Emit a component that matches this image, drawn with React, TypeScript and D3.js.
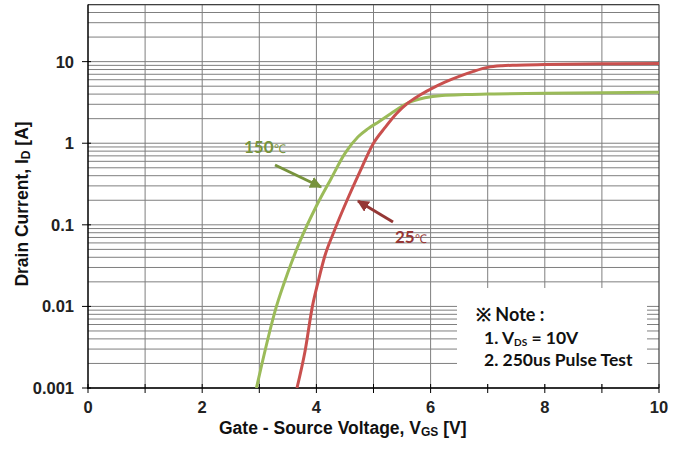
import React from "react";
import * as d3 from "d3";

// ---- data ----
const vgs25 = [3.66, 3.8, 3.93, 4.03, 4.15, 4.3, 4.55, 4.75, 5.0, 5.2, 5.4, 5.6, 5.8, 6.0, 6.25, 6.5, 6.75, 7.0, 7.25, 7.5, 8.0, 9.0, 10.0];
const id25 = [0.001, 0.0028, 0.01, 0.02, 0.042, 0.08, 0.21, 0.43, 1.0, 1.55, 2.3, 3.1, 3.85, 4.6, 5.6, 6.6, 7.6, 8.5, 8.9, 9.05, 9.2, 9.4, 9.5];
const vgs150 = [2.95, 3.3, 3.5, 3.7, 4.0, 4.25, 4.5, 4.73, 4.9, 5.1, 5.3, 5.6, 5.9, 6.2, 6.6, 7.0, 8.0, 9.0, 10.0];
const id150 = [0.001, 0.01, 0.026, 0.06, 0.17, 0.36, 0.75, 1.2, 1.5, 1.85, 2.3, 3.1, 3.6, 3.85, 3.95, 4.0, 4.1, 4.15, 4.2];

const xTicks = [0, 2, 4, 6, 8, 10];
const xMinorTicks = [1, 3, 5, 7, 9];
const yTicks = [0.001, 0.01, 0.1, 1, 10];
const yTickLabels = ["0.001", "0.01", "0.1", "1", "10"];

const RED = "#C9504E";
const GREEN = "#9BBB59";
const RED_DARK = "#953735";
const GREEN_DARK = "#77933C";

export default function App() {
  const W = 683, H = 459;
  const L = 88, R = 659, T = 4.6, B = 388;
  const x = d3.scaleLinear().domain([0, 10]).range([L, R]);
  const y = d3.scaleLog().domain([0.001, 50]).range([B, T]);

  const hLines: number[] = [];
  for (let d = -3; d <= 1; d++) {
    for (let m = 1; m <= 9; m++) {
      const v = m * Math.pow(10, d);
      if (v <= 50.0001) hLines.push(v);
    }
  }
  const vLines = d3.range(1, 10);

  const line = d3
    .line<[number, number]>()
    .x((d) => x(d[0]))
    .y((d) => y(d[1]))
    .curve(d3.curveMonotoneX);

  const red = line(vgs25.map((v, i) => [v, id25[i]] as [number, number]))!;
  const green = line(vgs150.map((v, i) => [v, id150[i]] as [number, number]))!;

  const axisFont = "'Liberation Sans', Arial, sans-serif";
  const noteFont = "Lato, 'Open Sans', sans-serif";

  return (
    <svg width={W} height={H} style={{ position: "absolute", left: 0, top: 0, background: "#fff" }}>
      <defs>
        <clipPath id="plot">
          <rect x={L} y={T} width={R - L} height={B - T} />
        </clipPath>
        <marker id="arrG" viewBox="0 0 10 10" refX="9" refY="5" markerWidth="4" markerHeight="4" orient="auto">
          <path d="M0,0 L10,5 L0,10 z" fill={GREEN_DARK} />
        </marker>
        <marker id="arrR" viewBox="0 0 10 10" refX="9" refY="5" markerWidth="4" markerHeight="4" orient="auto">
          <path d="M0,0 L10,5 L0,10 z" fill={RED_DARK} />
        </marker>
      </defs>
      <rect x={0} y={0} width={W} height={H} fill="#fff" />
      {/* grid */}
      {hLines.map((v, i) => (
        <line key={"h" + i} x1={L} x2={R} y1={y(v)} y2={y(v)} stroke="#7f7f7f" strokeWidth={1} />
      ))}
      {vLines.map((v) => (
        <line key={"v" + v} x1={x(v)} x2={x(v)} y1={T} y2={B} stroke="#7f7f7f" strokeWidth={1} />
      ))}
      {/* note box background */}
      <rect x={457} y={288} width={190} height={96} fill="#fff" />
      {/* plot border */}
      <line x1={L} x2={R} y1={T} y2={T} stroke="#404040" strokeWidth={1.2} />
      <line x1={R} x2={R} y1={T} y2={B} stroke="#404040" strokeWidth={1.2} />
      <line x1={L} x2={L} y1={T} y2={B + 1} stroke="#000" strokeWidth={1.5} />
      <line x1={L - 1} x2={R} y1={B} y2={B} stroke="#000" strokeWidth={1.5} />
      {/* ticks */}
      {[...xTicks, ...xMinorTicks].map((v) => (
        <line key={"xt" + v} x1={x(v)} x2={x(v)} y1={B - 4} y2={B + 5} stroke="#000" strokeWidth={1} />
      ))}
      {yTicks.map((v) => (
        <line key={"yt" + v} x1={L - 6} x2={L + 3} y1={y(v)} y2={y(v)} stroke="#000" strokeWidth={1} />
      ))}
      {/* tick labels */}
      {xTicks.map((v) => (
        <text key={"xl" + v} x={x(v)} y={413} textAnchor="middle" fontFamily={axisFont} fontWeight="bold" fontSize={16.5} fill="#222">
          {v}
        </text>
      ))}
      {yTicks.map((v, i) => (
        <text key={"yl" + v} x={74} y={y(v)} dy="0.36em" textAnchor="end" fontFamily={axisFont} fontWeight="bold" fontSize={16.5} fill="#222">
          {yTickLabels[i]}
        </text>
      ))}
      {/* axis titles */}
      <text x={219} y={434} fontFamily={axisFont} fontWeight="bold" fontSize={17.5} fill="#111">
        Gate - Source Voltage, V<tspan fontSize={12} dy={2}>GS</tspan>
        <tspan dy={-2}> [V]</tspan>
      </text>
      <text transform="translate(28,204) rotate(-90)" textAnchor="middle" fontFamily={axisFont} fontWeight="bold" fontSize={17.5} fill="#111">
        Drain Current, I<tspan fontSize={12} dy={2}>D</tspan>
        <tspan dy={-2}> [A]</tspan>
      </text>
      {/* curves */}
      <g clipPath="url(#plot)">
        <path d={green} fill="none" stroke={GREEN} strokeWidth={3} strokeLinejoin="round" />
        <path d={red} fill="none" stroke={RED} strokeWidth={3} strokeLinejoin="round" />
      </g>
      {/* annotations */}
      <line x1={275} y1={165} x2={321} y2={187} stroke={GREEN_DARK} strokeWidth={3} markerEnd="url(#arrG)" />
      <text x={244} y={153} fontFamily={noteFont} fontWeight="bold" fontSize={17} fill={GREEN_DARK}>
        150<tspan fontSize={12} fontWeight="normal">℃</tspan>
      </text>
      <line x1={393} y1={222} x2={358} y2={201} stroke={RED_DARK} strokeWidth={3} markerEnd="url(#arrR)" />
      <text x={395} y={243} fontFamily={noteFont} fontWeight="bold" fontSize={17} fill={RED_DARK}>
        25<tspan fontSize={12} fontWeight="normal">℃</tspan>
      </text>
      {/* note */}
      <g fontFamily={noteFont} fontWeight="bold" fill="#111">
        <text x={476} y={321} fontSize={18}>※ Note :</text>
        <text x={484} y={344} fontSize={17.5}>
          1. V<tspan fontSize={10} dy={2}>DS</tspan>
          <tspan dy={-2}> = 10V</tspan>
        </text>
        <text x={484} y={366} fontSize={17.5}>2. 250us Pulse Test</text>
      </g>
    </svg>
  );
}
